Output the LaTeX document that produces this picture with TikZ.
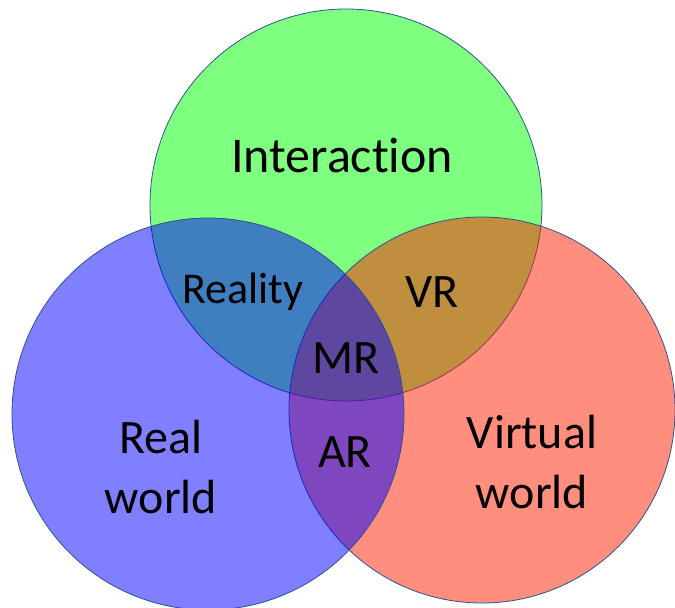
\documentclass[tikz,border=0pt]{standalone}
\usepackage{fontspec}
\setmainfont{Carlito}[Ligatures=NoCommon]
\usetikzlibrary{positioning}
\definecolor{ringgreen}{RGB}{0,255,0}
\definecolor{ringred}{RGB}{255,30,0}
\definecolor{ringblue}{RGB}{0,0,255}
\definecolor{rimline}{RGB}{47,82,143}

\begin{document}
\begin{tikzpicture}[x=1pt,y=-1pt]
	\tikzstyle{ring}=[draw=rimline, line width=0.8pt, fill opacity=0.5]
	\tikzstyle{word}=[font=\fontsize{48}{60}\selectfont, inner sep=0pt, anchor=base, align=center]
	\useasboundingbox (0,0) rectangle (675,608);
	% rings: green first, then red, blue on top
	\draw[ring, fill=ringgreen] (346,205) circle (196pt);
	\draw[ring, fill=ringred] (482,410) circle (193pt);
	\draw[ring, fill=ringblue] (208,414) circle (196pt);
	% labels
	\node[word, font=\fontsize{50}{60}\selectfont] (inter) at (342,172) {Interaction};
	\node[word, font=\fontsize{44}{53}\selectfont] (reality) at (243,303) {Reality};
	\node[word] (vr) at (432,307) {VR};
	\node[word] (mr) at (346,373) {MR};
	\node[word] (ar) at (345,467) {AR};
	% two-line labels sit on their last line
	\node[word] (real) at (161,513) {Real\\world};
	\node[word] (virtual) at (532,508) {Virtual\\world};
\end{tikzpicture}
\end{document}
